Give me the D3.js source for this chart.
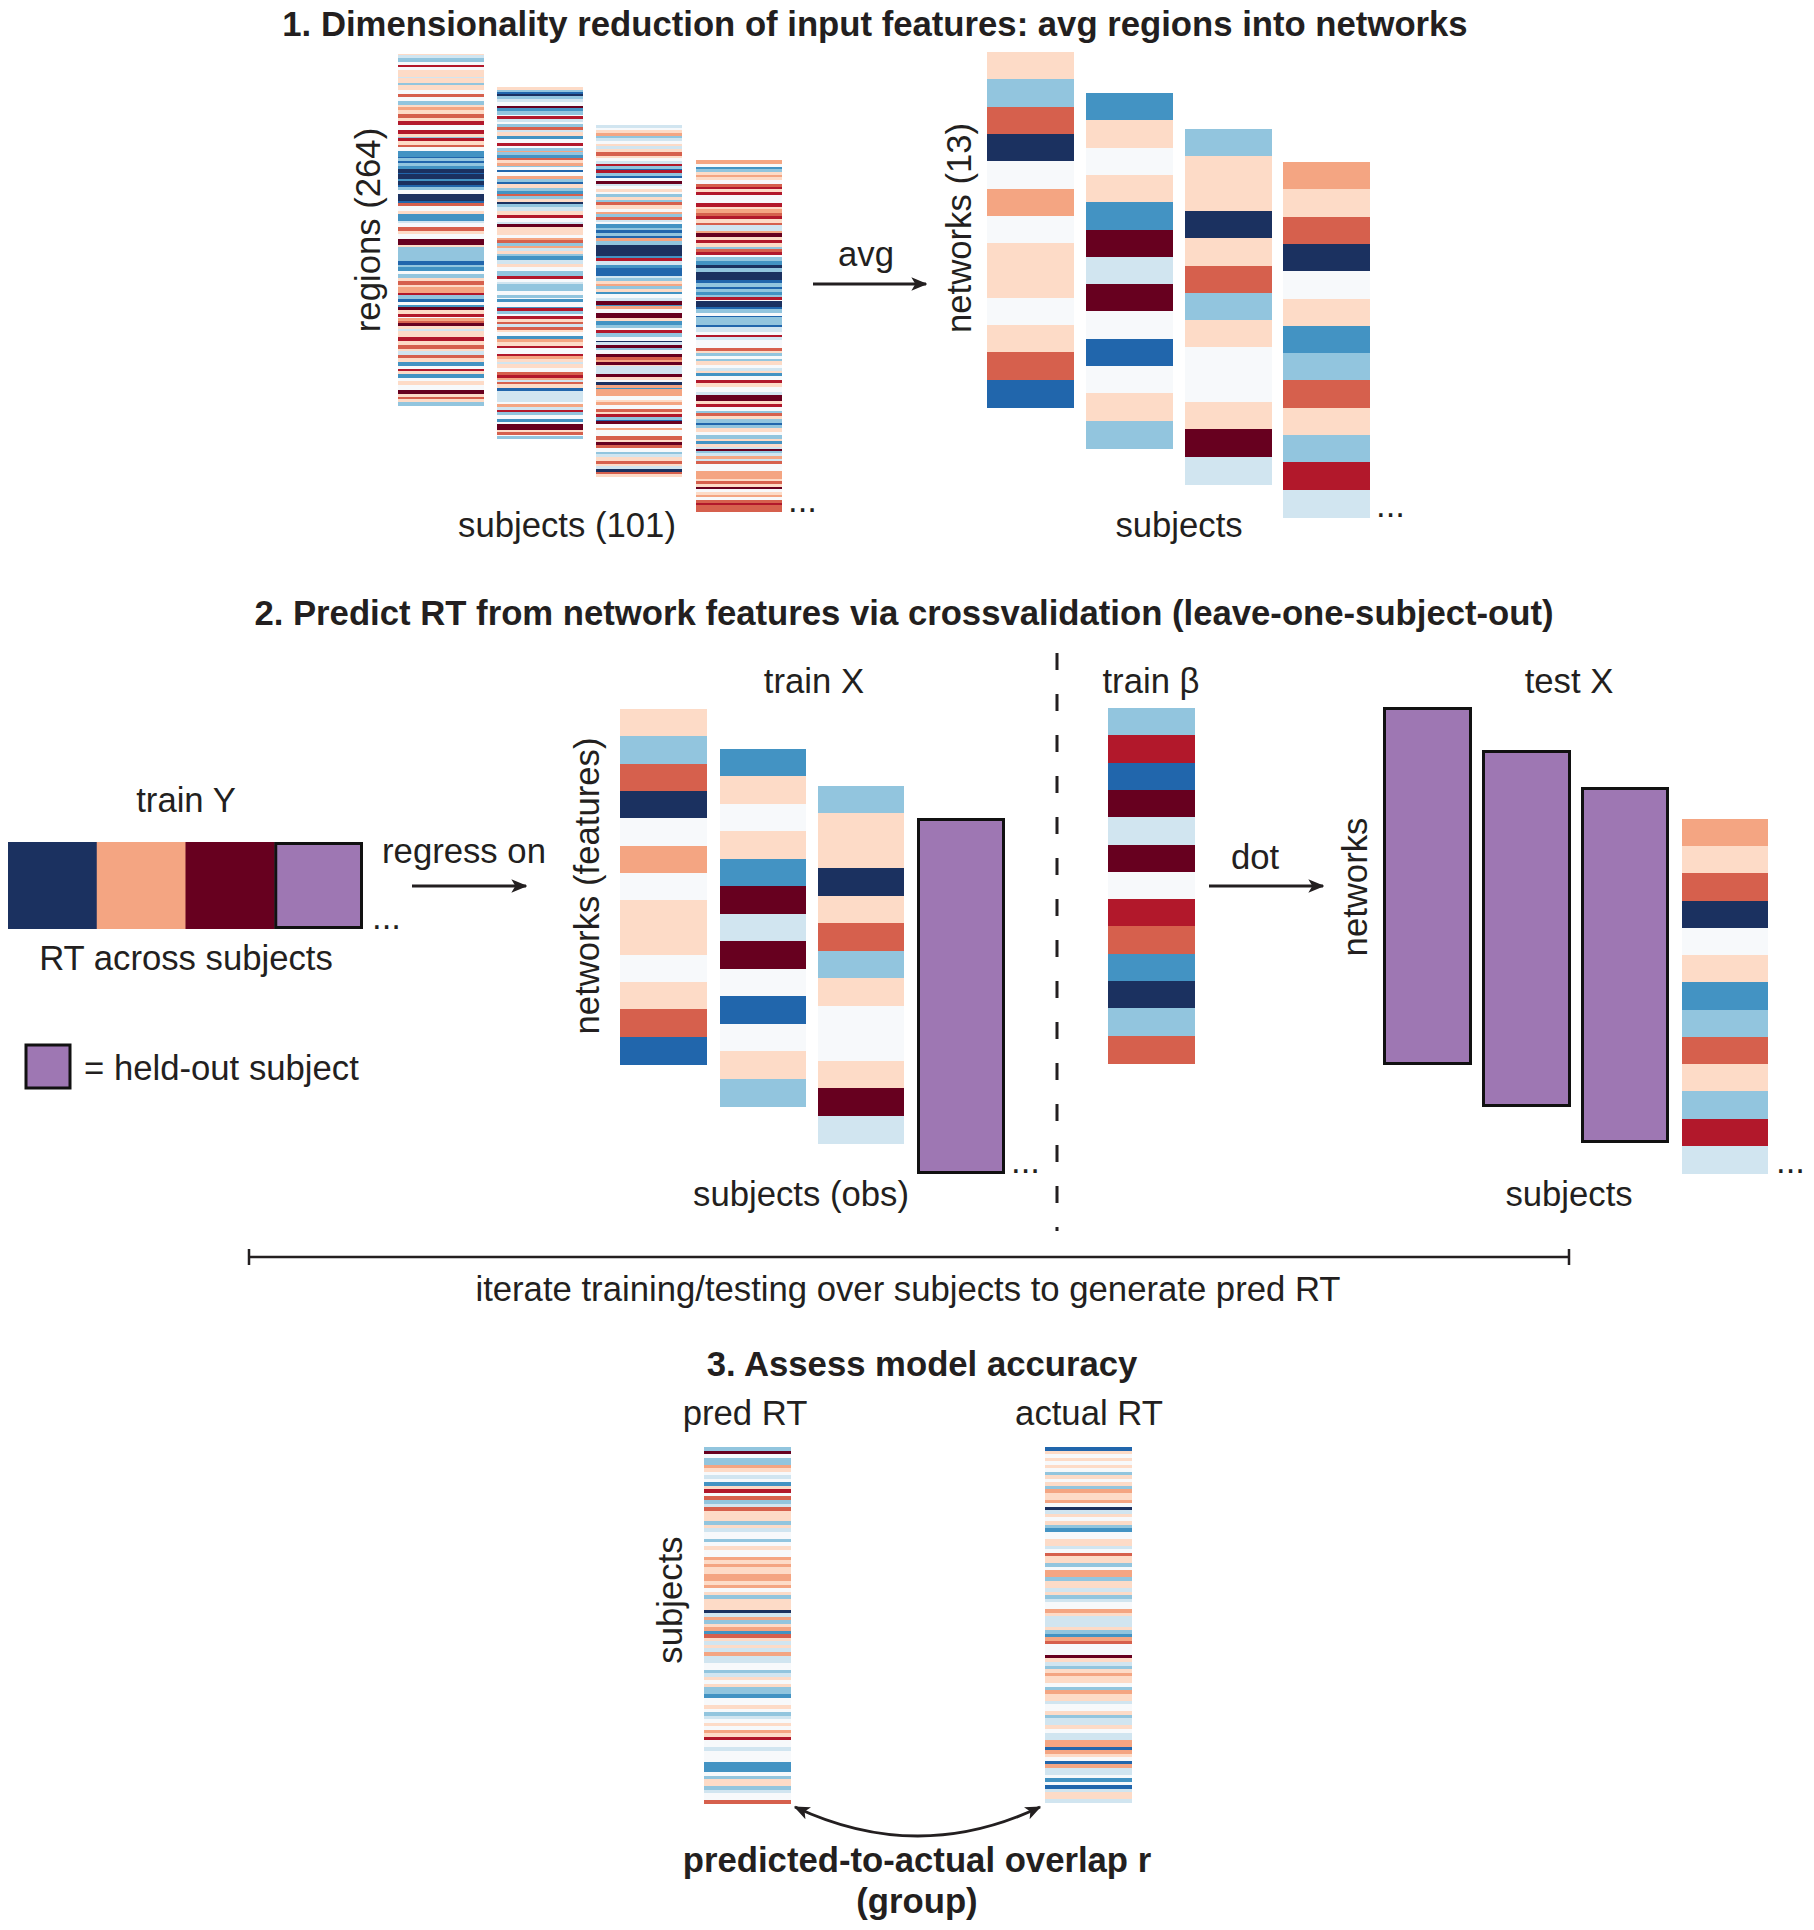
<!DOCTYPE html>
<html><head><meta charset="utf-8">
<script src="https://cdn.jsdelivr.net/npm/d3@7"></script>
<style>
body{margin:0;background:#fff}
text{font-family:"Liberation Sans",Arial,Helvetica,sans-serif;fill:#231f20;font-size:34.7px}
.b{font-weight:bold}
</style>
</head><body>
<svg id="c" width="1814" height="1930"></svg>
<script>
// ---------------- DATA ----------------
// values are RdBu bins: 0 = strongest red ... 5 = neutral ... 10 = strongest blue
// dense columns are run-length coded as "bin:count"
const regionSubj1 = "4:1 6:2 7:3 5:2 1:2 5:2 4:5 6:1 4:4 7:1 4:4 5:3 2:2 5:3 7:3 4:2 3:2 4:3 2:3 4:2 1:3 5:4 1:3 4:2 7:1 1:2 4:3 2:2 5:3 8:4 9:1 7:2 9:2 7:2 8:2 10:3 9:1 10:4 8:1 10:3 9:2 7:2 5:3 10:5 9:2 2:2 5:4 4:2 8:5 6:2 5:3 2:3 4:2 5:4 0:4 4:2 7:10 9:3 7:2 8:3 5:2 7:3 4:2 2:3 4:2 3:4 1:2 7:3 9:2 5:2 8:2 0:2 4:3 1:2 5:1 3:2 2:2 0:2 4:2 6:2 4:4 1:3 4:3 2:3 4:2 6:3 2:2 4:3 8:3 5:2 1:2 4:2 8:3 5:2 4:3 5:4 0:3 4:2 2:2 4:2 7:3";
const regionSubj2 = "4:2 7:2 9:1 10:2 7:2 6:2 5:3 0:2 8:2 7:3 5:1 1:2 6:2 5:2 7:2 2:2 6:2 4:3 8:2 5:3 1:2 5:2 7:2 3:1 7:2 8:2 2:2 4:2 3:2 7:1 5:2 9:2 5:3 3:2 7:2 9:2 4:3 7:2 8:2 2:2 7:2 4:2 10:2 7:2 6:3 4:3 1:2 5:3 6:2 0:2 4:6 5:2 3:2 2:2 7:2 3:2 6:2 4:2 7:2 8:3 6:3 4:2 5:3 7:4 1:2 5:2 6:2 7:5 5:3 7:2 5:1 8:2 5:4 8:1 1:2 7:2 5:2 1:2 4:2 2:2 6:2 2:2 4:2 5:3 8:2 3:2 4:3 1:2 5:4 1:2 3:2 4:2 6:2 4:3 5:3 2:2 1:2 3:2 6:1 2:2 4:3 9:2 6:3 6:5 5:2 3:2 6:2 1:2 7:2 5:3 8:2 5:2 0:4 4:2 2:2 5:1 7:2";
const regionSubj3 = "6:2 5:2 4:2 3:2 7:2 6:2 5:2 4:2 6:2 4:2 2:3 4:2 5:2 6:2 1:2 7:2 9:1 1:2 7:2 9:2 5:2 0:2 6:2 5:2 4:2 5:2 7:2 4:2 7:2 2:2 4:3 5:2 3:2 7:2 2:2 6:2 5:1 8:3 7:2 9:2 7:2 9:2 3:2 7:3 10:8 8:2 1:2 6:3 8:2 9:6 6:2 7:2 4:2 3:2 7:2 4:2 8:2 5:3 6:2 0:3 8:1 3:2 5:3 0:4 4:2 8:3 7:2 5:2 1:2 7:3 5:3 10:1 6:2 0:2 7:2 5:3 0:2 2:2 3:2 0:2 4:1 6:6 0:2 4:2 5:2 10:2 3:2 8:1 3:5 5:3 4:2 3:2 5:3 2:2 4:2 1:2 7:2 9:1 0:2 5:3 3:2 5:4 2:3 4:2 0:2 2:2 5:3 7:2 6:2 4:3 2:2 4:2 6:2 10:2 2:2 4:2";
const regionSubj4 = "3:3 5:2 8:2 7:2 4:2 3:2 4:2 5:3 2:2 1:2 4:2 1:2 5:6 1:3 4:2 3:3 2:2 1:2 4:3 2:2 6:4 3:2 0:3 4:2 1:2 4:3 7:2 2:2 1:2 5:2 7:3 8:3 10:2 7:3 10:6 9:2 7:3 9:2 7:2 8:2 7:2 1:2 5:1 10:4 9:2 7:3 5:2 9:1 7:6 9:1 6:4 5:2 1:2 6:2 5:6 2:2 4:2 7:2 5:2 7:2 4:3 5:2 6:2 4:2 8:2 5:3 1:2 4:3 5:4 6:2 0:5 4:2 1:2 5:3 7:2 2:2 4:2 7:3 9:2 7:2 4:3 5:2 7:3 4:2 8:2 4:2 6:2 0:1 7:2 6:2 3:2 6:2 2:2 5:5 3:6 4:2 2:2 4:2 0:2 5:2 4:2 3:2 5:2 2:2 1:2 2:2 2:3";

// network averages (13 networks) for the first subjects
const netSubj1 = [4, 7, 2, 10, 5, 3, 5, 4, 4, 5, 4, 2, 9];
const netSubj2 = [8, 4, 5, 4, 8, 0, 6, 0, 5, 9, 5, 4, 7];
const netSubj3 = [7, 4, 4, 10, 4, 2, 7, 4, 5, 5, 4, 0, 6];
const netSubj4 = [3, 4, 2, 10, 5, 4, 8, 7, 2, 4, 7, 1, 6];

// training RT (null = held-out subject) and trained betas
const trainY = [10, 3, 0, null];
const trainBeta = [7, 1, 9, 0, 6, 0, 5, 1, 2, 8, 10, 7, 2];

// predicted vs actual RT across 101 subjects
const predRT = "7:1 0:1 5:1 7:2 3:1 4:1 5:1 6:1 5:1 8:1 4:1 1:1 5:1 2:1 7:1 6:1 2:1 4:3 7:1 4:1 6:1 5:2 7:1 5:1 4:1 5:2 3:1 4:1 3:1 4:2 3:2 4:1 3:1 5:1 4:1 7:1 4:3 10:1 6:1 3:1 7:1 4:1 3:1 8:1 2:1 4:1 6:1 4:1 6:1 3:1 6:2 5:1 5:1 7:1 6:1 4:1 5:1 4:1 7:2 8:1 5:1 5:1 4:1 5:1 7:1 6:1 5:1 4:1 5:1 3:1 4:1 1:1 5:1 5:1 6:1 5:3 8:3 5:1 7:1 4:2 7:1 6:1 5:1 5:1 2:1";
const actualRT = "9:1 4:1 5:1 4:1 5:1 4:1 5:1 7:1 4:1 5:1 4:1 7:1 3:1 4:2 3:1 5:1 10:1 6:1 4:1 5:1 4:1 7:1 8:1 5:1 5:1 4:2 6:1 5:1 2:1 4:1 4:1 7:1 5:1 3:2 7:1 4:1 4:1 6:1 4:1 7:1 6:1 5:1 5:1 3:1 4:1 6:3 4:1 7:1 8:1 3:1 2:1 5:1 5:1 5:1 0:1 4:1 6:1 7:1 4:1 3:1 4:1 4:1 5:1 7:1 3:1 4:1 4:1 6:1 5:1 5:1 4:1 7:1 6:1 6:1 4:1 5:1 6:2 3:1 3:1 9:1 3:1 4:1 5:1 9:1 3:1 6:1 6:1 5:1 8:1 5:1 9:1 6:1 4:1 4:1 6:1";

// ---------------- DRAWING ----------------
const svg = d3.select("#c");
const palette = d3.schemeRdBu[11].slice();
palette[5] = "#f7f9fb";   // neutral as printed
palette[10] = "#1b3160";  // darkest blue as printed
const color = d3.scaleOrdinal().domain(d3.range(11)).range(palette);
const HELD = "#9e77b3";
const INK = "#231f20";

const defs = svg.append("defs");
defs.append("marker").attr("id", "ah")
  .attr("viewBox", "0 0 12 12").attr("refX", 11).attr("refY", 6)
  .attr("markerWidth", 16).attr("markerHeight", 16).attr("markerUnits", "userSpaceOnUse")
  .attr("orient", "auto-start-reverse")
  .append("path").attr("d", "M0,1 L12,6 L0,11 L3,6 Z").attr("fill", INK);

function expand(runs) {
  return runs.trim().split(/\s+/).flatMap(t => {
    const [v, n] = t.split(":").map(Number);
    return d3.range(n).map(() => v);
  });
}

function column(vals, x, y, w, h, dense) {
  const ys = d3.scaleBand().domain(d3.range(vals.length)).range([y, y + h]);
  svg.append("g").attr("shape-rendering", "crispEdges")
    .selectAll("rect").data(vals).join("rect")
    .attr("x", x).attr("y", (d, i) => ys(i))
    .attr("width", w).attr("height", ys.bandwidth() + (dense ? 0.35 : 0.5))
    .attr("fill", d => color(d));
}

function held(x, y, w, h) {
  svg.append("rect").attr("x", x).attr("y", y).attr("width", w).attr("height", h)
    .attr("fill", HELD).attr("stroke", "#111").attr("stroke-width", 3);
}

function label(t, x, y, opts = {}) {
  const el = svg.append("text").attr("x", x).attr("y", y).text(t)
    .attr("text-anchor", opts.anchor || "middle");
  if (opts.bold) el.attr("class", "b");
  return el;
}
function vlabel(t, x, y) {
  return svg.append("text").attr("transform", `translate(${x},${y}) rotate(-90)`)
    .attr("text-anchor", "middle").text(t);
}
function arrow(x1, y1, x2, y2) {
  svg.append("line").attr("x1", x1).attr("y1", y1).attr("x2", x2).attr("y2", y2)
    .attr("stroke", INK).attr("stroke-width", 3).attr("marker-end", "url(#ah)");
}

// ---- Section 1 ----
label("1. Dimensionality reduction of input features: avg regions into networks", 875, 36, {bold: true});

const regionCols = [regionSubj1, regionSubj2, regionSubj3, regionSubj4].map(expand);
const regionPos = [[398, 54], [497, 87], [596, 125], [696, 160]];
regionCols.forEach((v, i) => column(v, regionPos[i][0], regionPos[i][1], 86, 352, true));
vlabel("regions (264)", 380, 230);
label("subjects (101)", 567, 537);
label("...", 788, 512, {anchor: "start"});

arrow(813, 284, 926, 284);
label("avg", 866, 266);

const netCols = [netSubj1, netSubj2, netSubj3, netSubj4];
const netPos = [[987, 52], [1086, 93], [1185, 129], [1283, 162]];
netCols.forEach((v, i) => column(v, netPos[i][0], netPos[i][1], 87, 355, false));
vlabel("networks (13)", 971, 228);
label("subjects", 1179, 537);
label("...", 1376, 517, {anchor: "start"});

// ---- Section 2 ----
label("2. Predict RT from network features via crossvalidation (leave-one-subject-out)", 904, 625, {bold: true});

label("train Y", 186, 812);
const xs = d3.scaleBand().domain(d3.range(trainY.length)).range([8, 363]);
trainY.forEach((v, i) => {
  if (v === null) held(xs(i) + 1.5, 843.5, xs.bandwidth() - 3, 84);
  else svg.append("rect").attr("x", xs(i)).attr("y", 842).attr("width", xs.bandwidth() + 0.5)
    .attr("height", 87).attr("fill", color(v));
});
label("...", 372, 929, {anchor: "start"});
label("RT across subjects", 186, 970);
held(26, 1045, 44, 43);
label("= held-out subject", 84, 1080, {anchor: "start"});

label("regress on", 464, 863);
arrow(412, 886, 526, 886);

label("train X", 814, 693);
column(netSubj1, 620, 709, 87, 355, false);
column(netSubj2, 720, 749, 86, 357, false);
column(netSubj3, 818, 786, 86, 357, false);
held(918.5, 819.5, 85, 353);
label("...", 1011, 1173, {anchor: "start"});
vlabel("networks (features)", 599, 886);
label("subjects (obs)", 801, 1206);

svg.append("line").attr("x1", 1057).attr("y1", 653).attr("x2", 1057).attr("y2", 1231)
  .attr("stroke", INK).attr("stroke-width", 3).attr("stroke-dasharray", "17,24");

label("train β", 1151, 693);
column(trainBeta, 1108, 708, 87, 355, false);
label("dot", 1255, 869);
arrow(1209, 886, 1323, 886);

label("test X", 1569, 693);
vlabel("networks", 1367, 887);
held(1384.5, 708.5, 86, 355);
held(1483.5, 751.5, 86, 354);
held(1582.5, 788.5, 85, 353);
column(netSubj4, 1682, 819, 86, 354, false);
label("...", 1776, 1173, {anchor: "start"});
label("subjects", 1569, 1206);

svg.append("path").attr("d", "M249,1249V1265M249,1257H1569M1569,1249V1265")
  .attr("fill", "none").attr("stroke", INK).attr("stroke-width", 2.5);
label("iterate training/testing over subjects to generate pred RT", 908, 1301);

// ---- Section 3 ----
label("3. Assess model accuracy", 922, 1376, {bold: true});
label("pred RT", 745, 1425);
label("actual RT", 1089, 1425);
column(expand(predRT), 704, 1447, 87, 357, true);
column(expand(actualRT), 1045, 1447, 87, 356, true);
vlabel("subjects", 682, 1600);

svg.append("path").attr("d", "M795,1807 Q918,1865 1040,1807")
  .attr("fill", "none").attr("stroke", INK).attr("stroke-width", 3)
  .attr("marker-start", "url(#ah)").attr("marker-end", "url(#ah)");
label("predicted-to-actual overlap r", 917, 1872, {bold: true});
label("(group)", 917, 1913, {bold: true});
</script>
</body></html>
